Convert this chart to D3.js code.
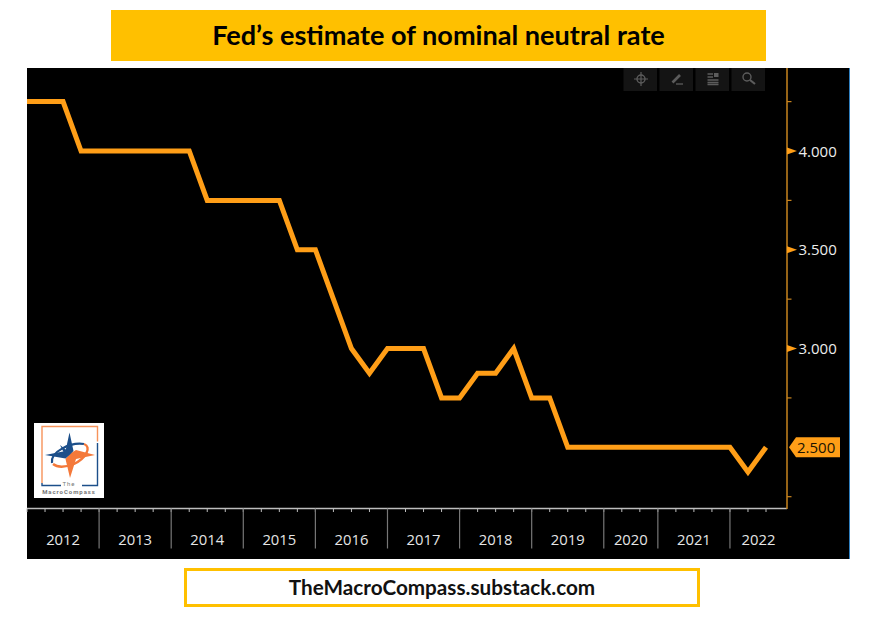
<!DOCTYPE html>
<html><head><meta charset="utf-8">
<script src="https://cdn.jsdelivr.net/npm/d3@7/dist/d3.min.js"></script>
<style>html,body{margin:0;padding:0;background:#fff}svg{display:block}</style>
</head><body><svg id="c" width="871" height="623"></svg>
<script>
const titleText = "Fed’s estimate of nominal neutral rate";
const footerText = "TheMacroCompass.substack.com";
const rates = [4.25,4.25,4.25,4,4,4,4,4,4,4,3.75,3.75,3.75,3.75,3.75,3.5,3.5,3.25,3,2.875,3,3,3,2.75,2.75,2.875,2.875,3,2.75,2.75,2.5,2.5,2.5,2.5,2.5,2.5,2.5,2.5,2.5,2.5,2.375,2.5];
const yearLabels = ["2012","2013","2014","2015","2016","2017","2018","2019","2020","2021","2022"];
const yearStarts = [0,4,8,12,16,20,24,28,32,35,39];
const yTicks = [2.25,2.5,2.75,3,3.25,3.5,3.75,4,4.25];
const yLabels = [3,3.5,4];
const lastValue = 2.5;

const svg = d3.select("#c");
const orange="#FF9E17", axisCol="#C9841E", gold="#FFC000";
const x = d3.scaleLinear().domain([0,41]).range([27,766]);
const y = d3.scaleLinear().domain([2.5,4]).range([447.3,151]);
const axisX=787, axisY=508.5;

// title & footer
svg.append("rect").attr("x",111).attr("y",10).attr("width",655).attr("height",51).attr("fill",gold);
svg.append("text").attr("x",438.5).attr("y",45).attr("text-anchor","middle")
  .attr("font-family","Lato").attr("font-weight",700).attr("font-size",27.1).attr("fill","#000").text(titleText);
svg.append("rect").attr("x",185.5).attr("y",569.5).attr("width",513).attr("height",36).attr("fill","#fff").attr("stroke",gold).attr("stroke-width",3);
svg.append("text").attr("x",442).attr("y",594.5).attr("text-anchor","middle")
  .attr("font-family","Lato").attr("font-weight",700).attr("font-size",20.7).attr("fill","#111").text(footerText);

// panel
svg.append("rect").attr("x",27).attr("y",68).attr("width",822).attr("height",491).attr("fill","#000");
svg.append("rect").attr("x",849).attr("y",68).attr("width",1).attr("height",491).attr("fill","#2F7FBF");

// toolbar
const tb = svg.append("g");
[623.5,659.5,695.5,731.5].forEach(b=>tb.append("rect").attr("x",b).attr("y",68).attr("width",33.5).attr("height",23).attr("fill","#141414"));
const ic="#5C5C5C";
tb.append("circle").attr("cx",641).attr("cy",79).attr("r",4).attr("fill","none").attr("stroke",ic).attr("stroke-width",1.4);
tb.append("path").attr("d","M634 79H648M641 72V86").attr("stroke",ic).attr("stroke-width",1.2);
tb.append("path").attr("d","M672.5 82.5L680 75").attr("stroke",ic).attr("stroke-width",2.6).attr("fill","none");
tb.append("path").attr("d","M676 84H683").attr("stroke",ic).attr("stroke-width",1.3).attr("fill","none");
tb.append("path").attr("d","M707.5 74H713M707.5 77H713M707.5 80H718.5M707.5 82.5H718.5M707.5 84.5H718.5").attr("stroke",ic).attr("stroke-width",1.3);
tb.append("rect").attr("x",714).attr("y",73).attr("width",4.5).attr("height",4).attr("fill",ic);
tb.append("circle").attr("cx",747).attr("cy",77).attr("r",4).attr("fill","none").attr("stroke",ic).attr("stroke-width",1.4);
tb.append("path").attr("d","M750 80L755 84").attr("stroke",ic).attr("stroke-width",2.2);

// bottom axis
const ba = svg.append("g");
ba.append("line").attr("x1",27).attr("x2",axisX).attr("y1",axisY).attr("y2",axisY).attr("stroke","#BDBDBD").attr("stroke-width",1.3);
ba.selectAll("line.q").data(d3.range(0,42)).join("line").attr("class","q")
  .attr("x1",x).attr("x2",x).attr("y1",axisY).attr("y2",axisY+3.5).attr("stroke","#BDBDBD");
ba.selectAll("line.s").data(yearStarts.slice(1)).join("line").attr("class","s")
  .attr("x1",x).attr("x2",x).attr("y1",axisY).attr("y2",548.5).attr("stroke","#777").attr("stroke-width",1.2);
const edges = yearStarts.map(d=>x(d)).concat([axisX]);
ba.selectAll("text").data(yearLabels).join("text")
  .attr("x",(d,i)=>(edges[i]+edges[i+1])/2).attr("y",545).attr("text-anchor","middle")
  .attr("font-family","Open Sans").attr("font-size",14.8).attr("fill","#E6E6E6").text(d=>d);

// right axis
const ra = svg.append("g");
ra.append("line").attr("x1",axisX).attr("x2",axisX).attr("y1",68).attr("y2",axisY+.5).attr("stroke",axisCol).attr("stroke-width",1.5);
ra.selectAll("line.t").data(yTicks.filter(t=>!yLabels.includes(t)&&t!==lastValue)).join("line").attr("class","t")
  .attr("x1",axisX).attr("x2",axisX+4.5).attr("y1",y).attr("y2",y).attr("stroke",axisCol).attr("stroke-width",1.2);
ra.selectAll("path.m").data(yLabels).join("path").attr("class","m")
  .attr("d",d=>`M${axisX} ${y(d)-3.5}L${axisX+10} ${y(d)}L${axisX} ${y(d)+3.5}Z`).attr("fill",orange);
ra.selectAll("text").data(yLabels).join("text")
  .attr("x",798.5).attr("y",d=>y(d)+5.5).attr("font-family","Open Sans").attr("font-size",15).attr("fill","#EDEDED").text(d=>d3.format(".3f")(d));

// line
svg.append("path").datum(rates)
  .attr("d",d3.line().x((d,i)=>x(i)).y(d=>y(d)))
  .attr("fill","none").attr("stroke",orange).attr("stroke-width",5).attr("stroke-linejoin","miter");

// last value tag
const ly=y(lastValue);
svg.append("path").attr("d",`M789 ${ly}L796 ${ly-10}H840V${ly+10}H796Z`).attr("fill",orange);
svg.append("text").attr("x",797).attr("y",ly+5.5).attr("font-family","Open Sans").attr("font-size",15).attr("fill","#201400").text(d3.format(".3f")(lastValue));

// logo
const lg = svg.append("g");
const blue="#1C4F8A", org="#F4793A";
lg.append("rect").attr("x",34).attr("y",423).attr("width",70).attr("height",75).attr("fill","#fff");
lg.append("path").attr("d","M42 483V426.5H97.5V441.5").attr("fill","none").attr("stroke","#F7935A").attr("stroke-width",1.4);
lg.append("path").attr("d","M97.5 443V485.5H82M42 483V485.5H61").attr("fill","none").attr("stroke",blue).attr("stroke-width",1.4);
// orbit: blue upper arc, orange right and lower arc
lg.append("path").attr("d","M52 463C50 452 70 442 84 444").attr("fill","none").attr("stroke",blue).attr("stroke-width",2.2);
lg.append("path").attr("d","M84 444C92 447 86 458 74 464C66 467 58 468 53 464").attr("fill","none").attr("stroke",org).attr("stroke-width",2.4);
lg.append("path").attr("d","M69.5 454L76 450L95 455L76 459L70 478L65.5 459Z").attr("fill",org);
lg.append("path").attr("d","M69.5 432.5L73.5 451L69.5 455L65.5 458.5L45 455L65.5 451Z").attr("fill",blue);
lg.append("path").attr("d","M60 445L69 452L65 455Z").attr("fill",blue);
lg.append("text").attr("x",69).attr("y",486).attr("text-anchor","middle").attr("font-family","Roboto").attr("font-size",6).attr("fill","#777").attr("letter-spacing",1).text("The");
lg.append("text").attr("x",69).attr("y",494).attr("text-anchor","middle").attr("font-family","Roboto").attr("font-weight",700).attr("font-size",6).attr("fill","#777").attr("letter-spacing",.95).text("MacroCompass");
</script></body></html>
